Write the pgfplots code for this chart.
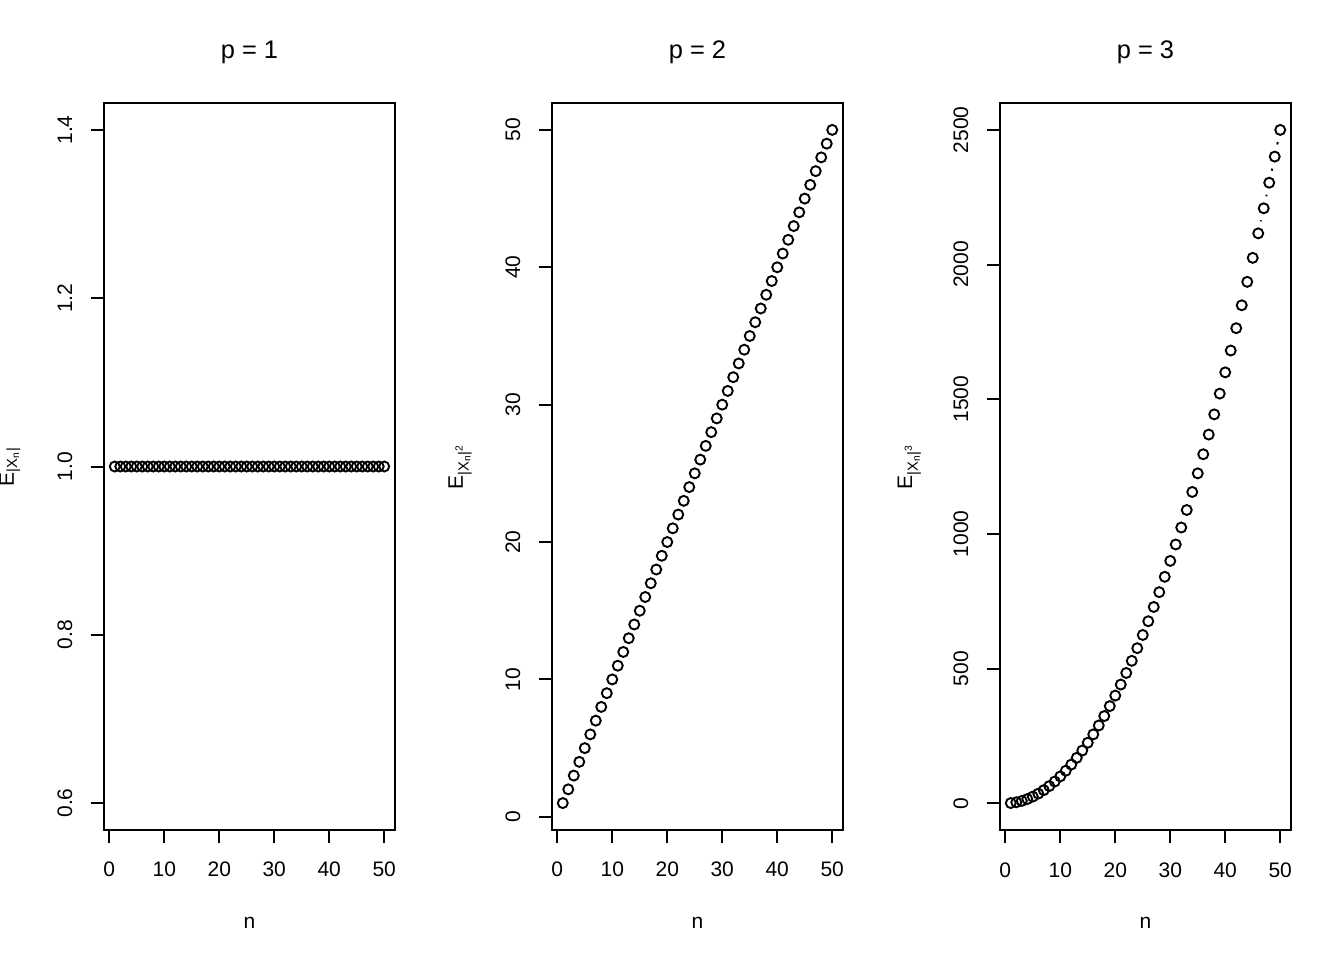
\documentclass[border=0pt]{standalone}
\usepackage{fontspec}
\setmainfont{Liberation Sans}
\usepackage{pgfplots}
\usepackage{pgfplotstable}
\pgfplotsset{compat=1.18}

% E|X_n|^p for n = 1..50, p = 1, 2, 3
\pgfplotstableread{
n p1 p2 p3
1 1 1 1
2 1 2 4
3 1 3 9
4 1 4 16
5 1 5 25
6 1 6 36
7 1 7 49
8 1 8 64
9 1 9 81
10 1 10 100
11 1 11 121
12 1 12 144
13 1 13 169
14 1 14 196
15 1 15 225
16 1 16 256
17 1 17 289
18 1 18 324
19 1 19 361
20 1 20 400
21 1 21 441
22 1 22 484
23 1 23 529
24 1 24 576
25 1 25 625
26 1 26 676
27 1 27 729
28 1 28 784
29 1 29 841
30 1 30 900
31 1 31 961
32 1 32 1024
33 1 33 1089
34 1 34 1156
35 1 35 1225
36 1 36 1296
37 1 37 1369
38 1 38 1444
39 1 39 1521
40 1 40 1600
41 1 41 1681
42 1 42 1764
43 1 43 1849
44 1 44 1936
45 1 45 2025
46 1 46 2116
47 1 47 2209
48 1 48 2304
49 1 49 2401
50 1 50 2500
}\moments

\newcommand{\lab}{\fontsize{10.5bp}{12bp}\selectfont}
\pgfplotsset{
  rpanel/.style={
    scale only axis, width=145.5bp, height=363.5bp, anchor=south west,
    xmin=-0.96, xmax=51.96, xtick={0,10,...,50},
    tick pos=left, tick align=outside, major tick length=6.7bp,
    axis line style={line width=1bp},
    every tick/.style={black, line width=1bp},
    scaled ticks=false,
    /pgf/number format/assume math mode=true,
    /pgf/number format/1000 sep={},
    tick label style={font=\lab},
    xticklabel style={anchor=base, yshift=-16.8bp},
    yticklabel style={xshift=-9.2bp, rotate=90, anchor=base},
    title style={at={(0.5,1)}, anchor=base, yshift=16.5bp,
      font=\fontsize{12.7bp}{15bp}\selectfont},
    xlabel style={at={(0.5,0)}, anchor=base, yshift=-49bp, font=\lab},
    ylabel style={anchor=base, font=\lab},
    xlabel={n},
  },
  pts/.style={black, only marks, mark=o, mark size=2.5bp,
    mark options={line width=0.95bp}},
  seg/.style={black, line width=0.95bp, shorten >=6.15bp, shorten <=6.15bp},
}

\begin{document}
\begin{tikzpicture}
\path[use as bounding box] (0,0) rectangle (672bp,480bp);

\begin{axis}[rpanel, at={(52bp,65bp)},
    ymin=0.568, ymax=1.432, ytick={0.6,0.8,1.0,1.2,1.4},
    yticklabel style={/pgf/number format/.cd, fixed, fixed zerofill, precision=1},
    title={p = 1},
    ylabel={E\textsubscript{|X\textsubscript{n}|}},
    ylabel style={at={(axis description cs:-0.31,0.5)}}]
\addplot[pts] table[x=n, y=p1] {\moments};
\end{axis}

\begin{axis}[rpanel, at={(276bp,65bp)},
    ymin=-0.96, ymax=51.96, ytick={0,10,...,50},
    title={p = 2},
    ylabel={E\textsubscript{|X\textsubscript{n}|\textsuperscript{2}}},
    ylabel style={at={(axis description cs:-0.306,0.5)}}]
\addplot[pts] table[x=n, y=p2] {\moments};
\end{axis}

\begin{axis}[rpanel, at={(500bp,65bp)},
    ymin=-98.96, ymax=2599.96, ytick={0,500,...,2500},
    title={p = 3},
    ylabel={E\textsubscript{|X\textsubscript{n}|\textsuperscript{3}}},
    ylabel style={at={(axis description cs:-0.302,0.5)}}]
\addplot[pts] table[x=n, y=p3] {\moments};
% type "b" joins: only the widest gaps leave a visible piece
\addplot[seg] coordinates {(49,2401) (50,2500)};
\addplot[seg] coordinates {(48,2304) (49,2401)};
\addplot[seg] coordinates {(47,2209) (48,2304)};
\addplot[seg] coordinates {(46,2116) (47,2209)};
\end{axis}
\end{tikzpicture}
\end{document}
